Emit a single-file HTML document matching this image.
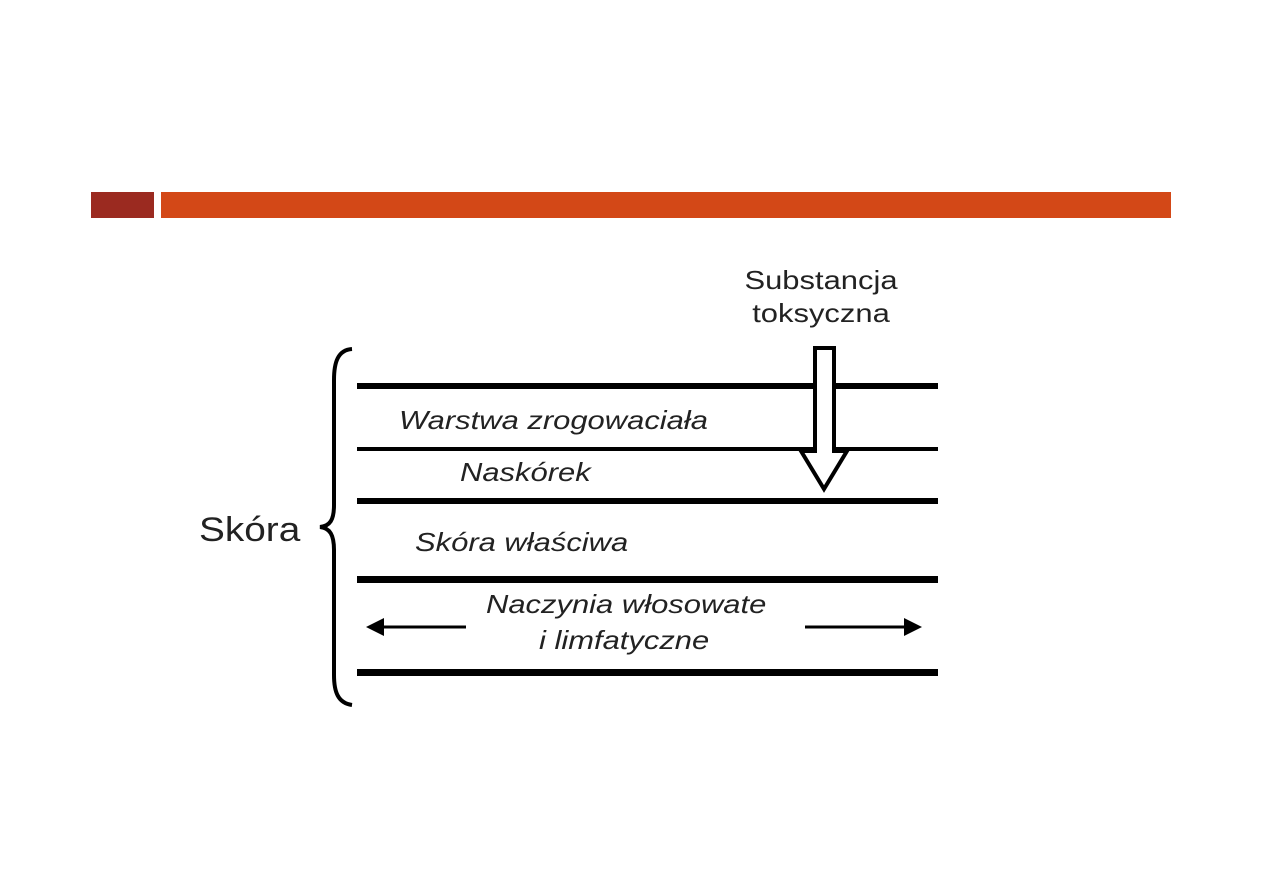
<!DOCTYPE html>
<html><head><style>
body{margin:0;width:1263px;height:893px;background:#fff;position:relative;overflow:hidden;font-family:"Liberation Sans",sans-serif}
.t{position:absolute;font-style:italic;font-size:26px;color:#222;white-space:nowrap;transform:scaleX(1.19);transform-origin:0 0}
</style></head><body>
<div style="position:absolute;left:91px;top:192px;width:63px;height:26px;background:#9b2a20"></div>
<div style="position:absolute;left:161px;top:192px;width:1010px;height:26px;background:#d34817"></div>
<svg width="1263" height="893" style="position:absolute;left:0;top:0">
<g fill="#000">
<rect x="357" y="383" width="581" height="6"/>
<rect x="357" y="447" width="581" height="4"/>
<rect x="357" y="498" width="581" height="6"/>
<rect x="357" y="576" width="581" height="7"/>
<rect x="357" y="669" width="581" height="7"/>
</g>
<path d="M815 348 H834 V451 H847 L824 489 L801 451 H815 Z" fill="#fff" stroke="#000" stroke-width="4"/>
<path d="M352 349 C338 350 334 362 334 380 V505 C334 520 330 526 320 527 C330 528 334 535 334 550 V675 C334 692 338 703 352 705" fill="none" stroke="#000" stroke-width="4"/>
<line x1="466" y1="627" x2="378" y2="627" stroke="#000" stroke-width="3"/>
<path d="M366 627 L384 618 L384 636 Z"/>
<line x1="805" y1="627" x2="908" y2="627" stroke="#000" stroke-width="3"/>
<path d="M922 627 L904 618 L904 636 Z"/>
</svg>
<div style="position:absolute;left:741px;top:264px;width:160px;text-align:center;font-size:26px;line-height:33px;color:#222;transform:scaleX(1.19);transform-origin:50% 0">Substancja<br>toksyczna</div>
<div style="position:absolute;left:199px;top:511px;font-size:34px;color:#222;transform:scaleX(1.14);transform-origin:0 0">Skóra</div>
<div class="t" style="left:399px;top:405px">Warstwa zrogowaciała</div>
<div class="t" style="left:460px;top:457px">Naskórek</div>
<div class="t" style="left:415px;top:527px">Skóra właściwa</div>
<div class="t" style="left:486px;top:589px">Naczynia włosowate</div>
<div class="t" style="left:539px;top:625px">i limfatyczne</div>
</body></html>
